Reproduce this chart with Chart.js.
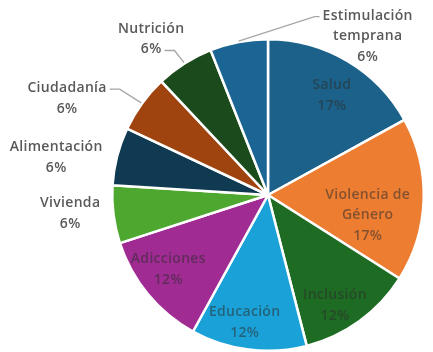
<!DOCTYPE html>
<html>
<head>
<meta charset="utf-8">
<script src="https://cdn.jsdelivr.net/npm/chart.js@4"></script>
<style>
  html, body { margin: 0; padding: 0; background: #fff; }
  #wrap { width: 433px; height: 352px; position: relative; }
</style>
</head>
<body>
<div id="wrap"><canvas id="pie"></canvas></div>
<script>
const categories = ['Salud', 'Violencia de Género', 'Inclusión', 'Educación', 'Adicciones',
  'Vivienda', 'Alimentación', 'Ciudadanía', 'Nutrición', 'Estimulación temprana'];
const values = [17, 17, 12, 12, 12, 6, 6, 6, 6, 6];
const colors = ['#1b6189', '#ed7d31', '#1e6b24', '#1aa2d8', '#a02b93',
  '#4ea72e', '#0f3a52', '#a0440f', '#1b4a1c', '#1b6594'];

const labelLines = [
  ['Salud', '17%'],
  ['Violencia de', 'Género', '17%'],
  ['Inclusión', '12%'],
  ['Educación', '12%'],
  ['Adicciones', '12%'],
  ['Vivienda', '6%'],
  ['Alimentación', '6%'],
  ['Ciudadanía', '6%'],
  ['Nutrición', '6%'],
  ['Estimulación', 'temprana', '6%']
];
// label block centre relative to pie centre, in units of the radius
const labelPlace = [
  { dx: 0.41, dy: -0.64, inside: true },
  { dx: 0.64, dy: 0.13, inside: true },
  { dx: 0.43, dy: 0.71, inside: true },
  { dx: -0.15, dy: 0.82, inside: true },
  { dx: -0.64, dy: 0.48, inside: true },
  { dx: -1.27, dy: 0.12 },
  { dx: -1.36, dy: -0.24 },
  { dx: -1.29, dy: -0.62, leader: { line: 0, side: 'right' } },
  { dx: -0.75, dy: -1.00, leader: { line: 1, side: 'right' } },
  { dx: 0.64, dy: -1.02, leader: { line: 0, side: 'left' } }
];

const LINE_H = 20.5;
const FONT = '600 14px "Open Sans", Lato, sans-serif';

const labelPlugin = {
  id: 'pieLabels',
  afterDatasetsDraw(chart) {
    const ctx = chart.ctx;
    const meta = chart.getDatasetMeta(0);
    ctx.save();
    ctx.font = FONT;
    ctx.letterSpacing = '0.3px';
    ctx.textAlign = 'center';
    ctx.textBaseline = 'middle';
    meta.data.forEach((arc, i) => {
      const p = arc.getProps(['x', 'y', 'startAngle', 'endAngle', 'outerRadius'], true);
      const mid = (p.startAngle + p.endAngle) / 2;
      const place = labelPlace[i];
      const cx = p.x + place.dx * p.outerRadius;
      const cy = p.y + place.dy * p.outerRadius;
      const lines = labelLines[i];
      const top = cy - (lines.length - 1) * LINE_H / 2;
      ctx.fillStyle = place.inside ? 'rgba(45,45,45,0.55)' : '#595959';
      lines.forEach((t, k) => ctx.fillText(t, cx, top + k * LINE_H));

      if (place.leader) {
        const ly = top + place.leader.line * LINE_H + 1;
        const w = ctx.measureText(lines[place.leader.line]).width;
        const right = place.leader.side === 'right';
        const endX = right ? cx + w / 2 + 3 : cx - w / 2 - 3;
        const elbowX = right ? endX + 10 : endX - 5;
        const sx = p.x + Math.cos(mid) * (p.outerRadius + 1);
        const sy = p.y + Math.sin(mid) * (p.outerRadius + 1);
        ctx.strokeStyle = '#a6a6a6';
        ctx.lineWidth = 1.3;
        ctx.beginPath();
        ctx.moveTo(sx, sy);
        ctx.lineTo(elbowX, ly);
        ctx.lineTo(endX, ly);
        ctx.stroke();
      }
    });
    ctx.restore();
  }
};

new Chart(document.getElementById('pie'), {
  type: 'pie',
  data: {
    labels: categories,
    datasets: [{
      data: values,
      backgroundColor: colors,
      borderColor: '#ffffff',
      borderWidth: 2.5
    }]
  },
  options: {
    responsive: true,
    maintainAspectRatio: false,
    animation: false,
    layout: { padding: { top: 38, bottom: 0, left: 111, right: 8 } },
    plugins: {
      legend: { display: false },
      tooltip: { enabled: false }
    }
  },
  plugins: [labelPlugin]
});
</script>
</body>
</html>
